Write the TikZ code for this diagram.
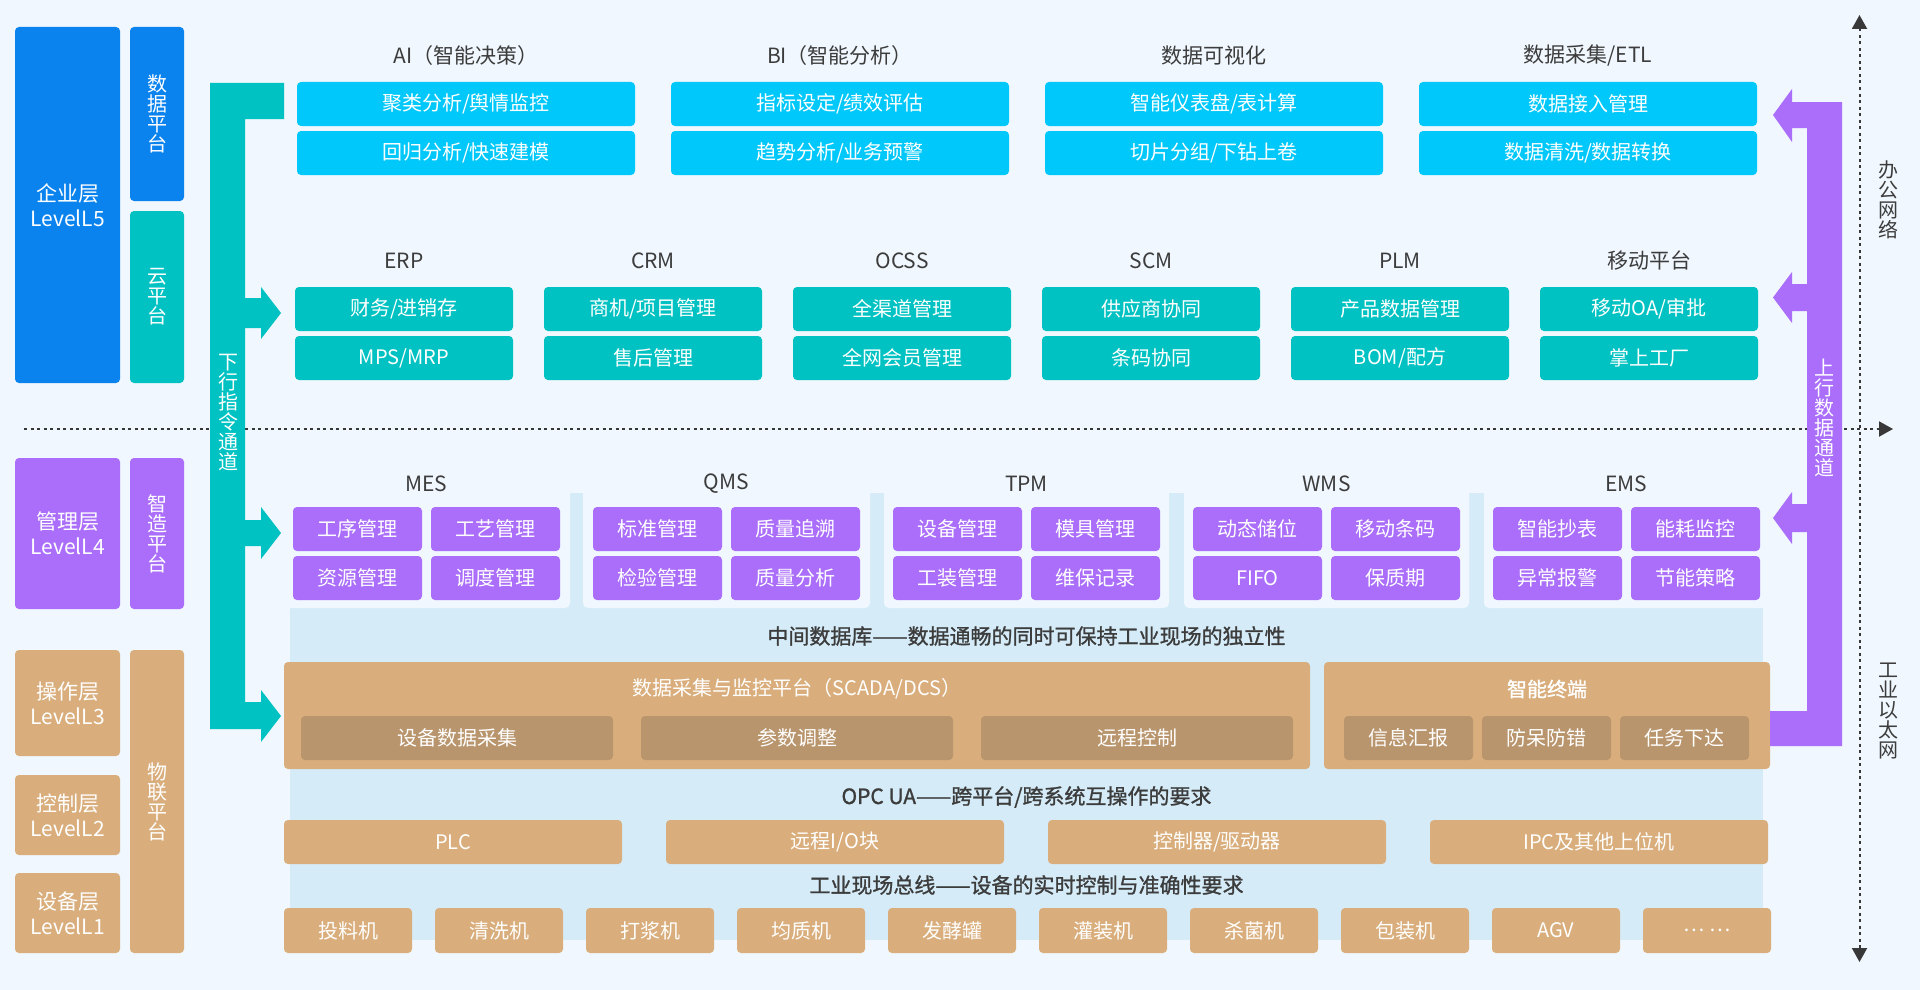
\documentclass[tikz,border=0pt]{standalone}
\usepackage{fontspec}
\setmainfont{Noto Sans CJK SC}
\newfontfamily\medfont{Noto Sans CJK SC}[FakeBold=1.2]
\usepackage{tikz}
\usetikzlibrary{arrows.meta}
\usetikzlibrary{positioning}

\definecolor{bgC}{HTML}{F0F7FE}
\definecolor{entC}{HTML}{0B83EE}
\definecolor{dataC}{HTML}{00C8FA}
\definecolor{cloudC}{HTML}{00C2C2}
\definecolor{mesC}{HTML}{AA6EFA}
\definecolor{fieldC}{HTML}{D9AE7C}
\definecolor{subC}{HTML}{B9956D}
\definecolor{laneC}{HTML}{D5ECF8}
\definecolor{titleC}{HTML}{3C3C3C}
\definecolor{axisC}{HTML}{383838}

\begin{document}
\begin{tikzpicture}[x=1pt,y=-1pt,>={Triangle[length=14pt,width=15pt]},
  every node/.style={inner sep=0pt,outer sep=0pt},
  box/.style={rounded corners=4pt,text=white,font=\fontsize{20pt}{24pt}\selectfont,minimum height=44pt},
  data box/.style={box,fill=dataC,minimum width=338pt},
  cloud box/.style={box,fill=cloudC,minimum width=218pt},
  mes box/.style={box,fill=mesC,minimum width=129pt},
  field box/.style={box,fill=fieldC,minimum width=338pt},
  sub box/.style={box,fill=subC,minimum width=129pt},
  layer box/.style={rounded corners=4pt,text=white,align=center,minimum width=105pt,
    font=\fontsize{21pt}{25pt}\selectfont},
  plat box/.style={rounded corners=4pt,text=white,align=center,minimum width=54pt,
    font=\fontsize{20pt}{20pt}\selectfont},
  vtext/.style={text=white,align=center,font=\fontsize{20pt}{20pt}\selectfont},
  title/.style={text=titleC,font=\fontsize{21pt}{25pt}\selectfont},
  bus title/.style={text=titleC,font=\medfont\fontsize{21pt}{25pt}\selectfont},
  axis/.style={draw=axisC,line width=2pt,dash pattern=on 3pt off 3.5pt}]

  \fill[bgC] (0,0) rectangle (1920,990);
  \useasboundingbox (0,0) rectangle (1920,990);

  \coordinate (hl) at (24,429);
  \coordinate (hr) at (1893,429);
  \coordinate (top) at (1859.5,15);
  \coordinate (bot) at (1859.5,962);
  \draw[axis,->] (hl) -- (hr);
  \draw[axis,<->] (top) -- (bot);

  \node[title] (office) at (1888,200) [align=center,font=\fontsize{20pt}{20pt}\selectfont] {办\\公\\网\\络};
  \node[title] (ether) at (1888,711) [align=center,font=\fontsize{20pt}{20pt}\selectfont] {工\\业\\以\\太\\网};

  \node[layer box,fill=entC,minimum height=356pt] (l5) at (67.5,205) {企业层\\LevelL5};
  \node[plat box,fill=entC,minimum height=174pt] (dat) at (157,114) {数\\据\\平\\台};
  \node[plat box,fill=cloudC,minimum height=172pt] (cld) at (157,297) {云\\平\\台};
  \node[layer box,fill=mesC,minimum height=151pt] (l4) at (67.5,533.5) {管理层\\LevelL4};
  \node[plat box,fill=mesC,minimum height=151pt] (mfg) at (157,533.5) {智\\造\\平\\台};
  \node[layer box,fill=fieldC,minimum height=106pt] (l3) at (67.5,703) {操作层\\LevelL3};
  \node[layer box,fill=fieldC,minimum height=80pt] (l2) at (67.5,815) {控制层\\LevelL2};
  \node[layer box,fill=fieldC,minimum height=80pt] (l1) at (67.5,913) {设备层\\LevelL1};
  \node[plat box,fill=fieldC,minimum height=303pt] (iot) at (157,801.5) {物\\联\\平\\台};

  \node[title] (tai) at (466,56) {AI（智能决策）};
  \node[title] (tbi) at (840,56) {BI（智能分析）};
  \node[title] (tvis) at (1214,56) {数据可视化};
  \node[title] (tetl) at (1588,56) {数据采集/ETL};
  \node[data box] (ai1) at (466,104) {聚类分析/舆情监控};
  \node[data box] (ai2) [below=5pt of ai1] {回归分析/快速建模};
  \node[data box] (bi1) [right=36pt of ai1] {指标设定/绩效评估};
  \node[data box] (bi2) [below=5pt of bi1] {趋势分析/业务预警};
  \node[data box] (vis1) [right=36pt of bi1] {智能仪表盘/表计算};
  \node[data box] (vis2) [below=5pt of vis1] {切片分组/下钻上卷};
  \node[data box] (etl1) [right=36pt of vis1] {数据接入管理};
  \node[data box] (etl2) [below=5pt of etl1] {数据清洗/数据转换};

  \node[title] (terp) at (404,261) {ERP};
  \node[title] (tcrm) at (653,261) {CRM};
  \node[title] (tocss) at (902,261) {OCSS};
  \node[title] (tscm) at (1151,261) {SCM};
  \node[title] (tplm) at (1400,261) {PLM};
  \node[title] (tmob) at (1649,261) {移动平台};
  \node[cloud box] (erp1) at (404,309) {财务/进销存};
  \node[cloud box] (erp2) [below=5pt of erp1] {MPS/MRP};
  \node[cloud box] (crm1) [right=31pt of erp1] {商机/项目管理};
  \node[cloud box] (crm2) [below=5pt of crm1] {售后管理};
  \node[cloud box] (ocss1) [right=31pt of crm1] {全渠道管理};
  \node[cloud box] (ocss2) [below=5pt of ocss1] {全网会员管理};
  \node[cloud box] (scm1) [right=31pt of ocss1] {供应商协同};
  \node[cloud box] (scm2) [below=5pt of scm1] {条码协同};
  \node[cloud box] (plm1) [right=31pt of scm1] {产品数据管理};
  \node[cloud box] (plm2) [below=5pt of plm1] {BOM/配方};
  \node[cloud box] (mob1) [right=31pt of plm1] {移动OA/审批};
  \node[cloud box] (mob2) [below=5pt of mob1] {掌上工厂};

  \fill[laneC] (290,493) rectangle (1763,940);
  \fill[bgC,rounded corners=5pt] (280,470) rectangle (570,608);
  \fill[bgC,rounded corners=5pt] (583,470) rectangle (870,608);
  \fill[bgC,rounded corners=5pt] (884,470) rectangle (1169,608);
  \fill[bgC,rounded corners=5pt] (1184,470) rectangle (1469,608);
  \fill[bgC,rounded corners=5pt] (1484,470) rectangle (1773,608);

  \node[title] (tmes) at (426.5,484) {MES};
  \node[title] (tqms) at (726.5,484) {QMS};
  \node[title] (ttpm) at (1026.5,484) {TPM};
  \node[title] (twms) at (1326.5,484) {WMS};
  \node[title] (tems) at (1626.5,484) {EMS};
  \node[mes box] (mes1) at (357.5,529) {工序管理};
  \node[mes box] (mes2) [right=9pt of mes1] {工艺管理};
  \node[mes box] (mes3) [below=5pt of mes1] {资源管理};
  \node[mes box] (mes4) [below=5pt of mes2] {调度管理};
  \node[mes box] (qms1) [right=33pt of mes2] {标准管理};
  \node[mes box] (qms2) [right=9pt of qms1] {质量追溯};
  \node[mes box] (qms3) [below=5pt of qms1] {检验管理};
  \node[mes box] (qms4) [below=5pt of qms2] {质量分析};
  \node[mes box] (tpm1) [right=33pt of qms2] {设备管理};
  \node[mes box] (tpm2) [right=9pt of tpm1] {模具管理};
  \node[mes box] (tpm3) [below=5pt of tpm1] {工装管理};
  \node[mes box] (tpm4) [below=5pt of tpm2] {维保记录};
  \node[mes box] (wms1) [right=33pt of tpm2] {动态储位};
  \node[mes box] (wms2) [right=9pt of wms1] {移动条码};
  \node[mes box] (wms3) [below=5pt of wms1] {FIFO};
  \node[mes box] (wms4) [below=5pt of wms2] {保质期};
  \node[mes box] (ems1) [right=33pt of wms2] {智能抄表};
  \node[mes box] (ems2) [right=9pt of ems1] {能耗监控};
  \node[mes box] (ems3) [below=5pt of ems1] {异常报警};
  \node[mes box] (ems4) [below=5pt of ems2] {节能策略};

  \node[bus title] (tdb) at (1026.5,636) {中间数据库——数据通畅的同时可保持工业现场的独立性};

  \node[field box,minimum width=1026pt,minimum height=107pt] (scada) at (797,715.5) {};
  \node[box] (tscada) at (797,689) {数据采集与监控平台（SCADA/DCS）};
  \node[sub box,minimum width=312pt] (sc1) at (457,738) {设备数据采集};
  \node[sub box,minimum width=312pt] (sc2) [right=28pt of sc1] {参数调整};
  \node[sub box,minimum width=312pt] (sc3) [right=28pt of sc2] {远程控制};
  \node[field box,minimum width=446pt,minimum height=107pt] (term) at (1547,715.5) {};
  \node[box,font=\medfont\fontsize{20pt}{24pt}\selectfont] (tterm) at (1547,689) {智能终端};
  \node[sub box] (te1) at (1408.5,738) {信息汇报};
  \node[sub box] (te2) [right=9pt of te1] {防呆防错};
  \node[sub box] (te3) [right=9pt of te2] {任务下达};

  \node[bus title] (topc) at (1026.5,797) {OPC UA——跨平台/跨系统互操作的要求};
  \node[field box] (plc) at (453,842) {PLC};
  \node[field box] (rio) [right=44pt of plc] {远程I/O块};
  \node[field box] (drv) [right=44pt of rio] {控制器/驱动器};
  \node[field box] (ipc) [right=44pt of drv] {IPC及其他上位机};

  \node[bus title] (tbus) at (1026.5,885) {工业现场总线——设备的实时控制与准确性要求};
  \node[field box,minimum width=128pt,minimum height=45pt] (m1) at (348,930.5) {投料机};
  \node[field box,minimum width=128pt,minimum height=45pt] (m2) [right=23pt of m1] {清洗机};
  \node[field box,minimum width=128pt,minimum height=45pt] (m3) [right=23pt of m2] {打浆机};
  \node[field box,minimum width=128pt,minimum height=45pt] (m4) [right=23pt of m3] {均质机};
  \node[field box,minimum width=128pt,minimum height=45pt] (m5) [right=23pt of m4] {发酵罐};
  \node[field box,minimum width=128pt,minimum height=45pt] (m6) [right=23pt of m5] {灌装机};
  \node[field box,minimum width=128pt,minimum height=45pt] (m7) [right=23pt of m6] {杀菌机};
  \node[field box,minimum width=128pt,minimum height=45pt] (m8) [right=23pt of m7] {包装机};
  \node[field box,minimum width=128pt,minimum height=45pt] (m9) [right=23pt of m8] {AGV};
  \node[field box,minimum width=128pt,minimum height=45pt] (m10) [right=23pt of m9] {… …};

  \fill[cloudC] (210,83) -- (284,83) -- (284,119) -- (245,119)
    -- (245,298) -- (261,298) -- (261,287) -- (281,313) -- (261,339) -- (261,328) -- (245,328)
    -- (245,520) -- (261,520) -- (261,507) -- (281,533) -- (261,559) -- (261,546) -- (245,546)
    -- (245,702) -- (261,702) -- (261,690) -- (281,716) -- (261,742) -- (261,729) -- (210,729) -- cycle;
  \fill[mesC] (1770,711) -- (1807,711)
    -- (1807,532) -- (1792,532) -- (1792,544) -- (1773,518) -- (1792,492) -- (1792,504) -- (1807,504)
    -- (1807,311) -- (1792,311) -- (1792,323) -- (1773,297.5) -- (1792,272) -- (1792,284) -- (1807,284)
    -- (1807,128) -- (1792,128) -- (1792,142) -- (1773,115) -- (1792,89) -- (1792,102)
    -- (1842,102) -- (1842,746) -- (1770,746) -- cycle;
  \node[vtext] (down) at (228,413) {下\\行\\指\\令\\通\\道};
  \node[vtext] (up) at (1824.5,418) {上\\行\\数\\据\\通\\道};
\end{tikzpicture}
\end{document}
